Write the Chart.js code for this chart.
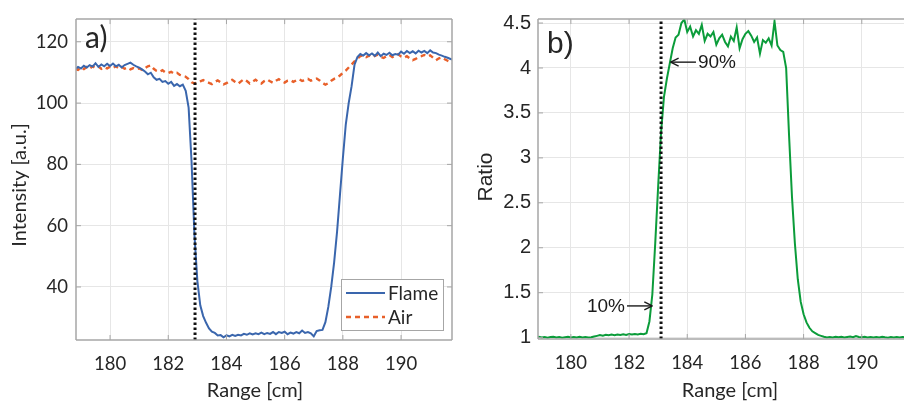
<!DOCTYPE html>
<html>
<head>
<meta charset="utf-8">
<script src="https://cdn.jsdelivr.net/npm/chart.js@4.4.1/dist/chart.umd.min.js"></script>
<style>
  body { margin: 0; background: #fff; }
  #wrap { position: relative; width: 904px; height: 403px; overflow: hidden; background: #fff; }
  canvas { position: absolute; top: 0; }
  #chartA { left: 0; }
  #chartB { left: 460px; }
</style>
</head>
<body>
<div id="wrap">
  <canvas id="chartA" width="460" height="403"></canvas>
  <canvas id="chartB" width="470" height="403"></canvas>
</div>
<script>
// range axis shared by both panels (cm)
const rangeCm = [
  178.8, 178.9, 179.0, 179.1, 179.2, 179.3, 179.4, 179.5, 179.6, 179.7,
  179.8, 179.9, 180.0, 180.1, 180.2, 180.3, 180.4, 180.5, 180.6, 180.7,
  180.8, 180.9, 181.0, 181.1, 181.2, 181.3, 181.4, 181.5, 181.6, 181.7,
  181.8, 181.9, 182.0, 182.1, 182.2, 182.3, 182.4, 182.5, 182.6, 182.7,
  182.8, 182.9, 183.0, 183.1, 183.2, 183.3, 183.4, 183.5, 183.6, 183.7,
  183.8, 183.9, 184.0, 184.1, 184.2, 184.3, 184.4, 184.5, 184.6, 184.7,
  184.8, 184.9, 185.0, 185.1, 185.2, 185.3, 185.4, 185.5, 185.6, 185.7,
  185.8, 185.9, 186.0, 186.1, 186.2, 186.3, 186.4, 186.5, 186.6, 186.7,
  186.8, 186.9, 187.0, 187.1, 187.2, 187.3, 187.4, 187.5, 187.6, 187.7,
  187.8, 187.9, 188.0, 188.1, 188.2, 188.3, 188.4, 188.5, 188.6, 188.7,
  188.8, 188.9, 189.0, 189.1, 189.2, 189.3, 189.4, 189.5, 189.6, 189.7,
  189.8, 189.9, 190.0, 190.1, 190.2, 190.3, 190.4, 190.5, 190.6, 190.7,
  190.8, 190.9, 191.0, 191.1, 191.2, 191.3, 191.4, 191.5, 191.6, 191.7,
  191.8
];

// panel a) intensity [a.u.]
const flame = [
  111.0, 111.8, 111.3, 112.2, 111.6, 112.4, 111.9, 113.0, 111.8, 112.6,
  112.0, 112.8, 112.1, 112.9, 112.0, 112.5, 111.6, 112.4, 112.8, 113.2,
  112.5, 112.0, 111.6, 111.0, 110.3, 109.4, 109.9, 108.4, 107.6, 107.9,
  106.9, 107.2, 106.3, 106.9, 105.6, 106.2, 105.5, 106.0, 104.0, 98.5,
  81.0, 57.0, 42.0, 34.0, 30.5, 28.3, 26.5, 25.4, 25.0, 24.2,
  24.3, 23.6, 24.2, 23.9, 24.4, 24.0, 24.4, 24.2, 24.7, 24.4,
  24.9, 24.5, 24.9, 24.6, 25.1, 24.6, 25.0, 24.7, 25.3, 24.6,
  25.3, 25.0, 25.4, 24.6, 25.1, 24.8, 25.3, 24.9, 25.8, 25.0,
  25.3, 24.9, 23.9, 25.6, 25.9, 26.0, 28.5, 33.5, 40.0, 48.0,
  58.0, 70.0, 82.0, 93.0, 100.0, 105.5, 112.5, 115.0, 116.0, 115.5,
  116.3, 115.6, 116.2, 115.4, 116.5, 115.3, 116.1, 115.7, 116.4, 115.6,
  116.0, 115.8, 116.8, 116.1, 117.0, 116.3, 116.9, 116.2, 117.1, 116.5,
  117.0, 116.3, 117.2, 116.5, 116.3, 115.8, 115.5, 115.1, 114.8, 114.4,
  114.1
];
const air = [
  111.2, 110.8, 111.6, 111.1, 111.8, 111.3, 112.0, 111.4, 111.9, 111.2,
  111.7, 111.3, 111.9, 111.5, 112.0, 111.4, 111.8, 111.2, 111.6, 111.0,
  111.4, 111.0, 111.3, 110.8, 111.4, 112.0, 112.3, 111.2, 110.5, 110.2,
  110.7, 110.0, 109.8, 110.2, 109.6, 109.9, 109.2, 108.9, 108.6, 107.8,
  106.8, 106.4, 106.7, 107.1, 107.5, 107.0, 106.6, 106.2, 106.9, 107.4,
  106.8, 106.1, 106.5, 107.2, 107.6, 106.9, 106.3, 107.1, 107.8, 107.2,
  106.4, 107.0, 107.6, 106.9, 106.4, 107.2, 107.7, 107.1, 106.6, 107.3,
  107.8, 107.1, 106.7, 107.3, 107.5, 106.9, 107.4, 107.8, 107.2, 107.5,
  107.9, 107.3, 107.7, 108.0, 107.4, 106.6, 106.0, 106.5, 107.3, 107.9,
  108.3, 109.0, 109.9, 110.6, 111.6, 112.6, 113.6, 114.5, 115.3, 115.6,
  115.0, 115.5, 114.9, 115.4, 115.8, 115.1, 114.7, 115.3, 115.7, 115.0,
  115.5, 115.9, 115.2, 114.8, 115.3, 114.6, 114.0, 114.4, 115.0, 115.3,
  115.7, 115.2, 115.6, 114.8, 114.0, 114.6, 114.9, 114.3, 113.8, 113.4,
  113.1
];

// panel b) flame / air ratio
const ratio = [
  1.005, 1.010, 1.002, 1.008, 1.000, 1.006, 1.010, 1.003, 1.008, 1.000,
  1.005, 1.009, 1.002, 1.007, 1.003, 1.010, 1.001, 1.006, 1.002, 1.004,
  1.012, 1.020, 1.028, 1.022, 1.032, 1.026, 1.034, 1.028, 1.036, 1.030,
  1.038, 1.031, 1.040, 1.034, 1.041, 1.036, 1.042, 1.038, 1.050, 1.180,
  1.480, 2.050, 2.680, 3.280, 3.680, 3.880, 4.050, 4.220, 4.340, 4.370,
  4.500, 4.540, 4.400, 4.460, 4.350, 4.420, 4.380, 4.480, 4.300, 4.380,
  4.350, 4.400, 4.260, 4.330, 4.370, 4.290, 4.240, 4.350, 4.300, 4.450,
  4.220, 4.320, 4.380, 4.410, 4.360, 4.290, 4.340, 4.160, 4.310, 4.280,
  4.330, 4.250, 4.520, 4.250, 4.200, 4.180, 4.000, 3.250, 2.570, 2.050,
  1.650, 1.400, 1.260, 1.170, 1.110, 1.070, 1.050, 1.030, 1.020, 1.010,
  1.002, 1.008, 1.003, 1.010, 1.004, 1.009, 1.002, 1.007, 1.012, 1.006,
  1.018, 1.008, 1.004, 1.010, 1.003, 1.008, 1.001, 1.006, 1.002, 1.009,
  1.004, 1.000, 1.007, 1.003, 1.008, 1.002, 1.006, 1.004, 1.005, 1.003,
  1.006
];

const xTicks = [180, 182, 184, 186, 188, 190];
const yTicksA = [40, 60, 80, 100, 120];
const yTicksB = [1, 1.5, 2, 2.5, 3, 3.5, 4, 4.5];

const edgeA = 182.92; // flame edge marker, panel a)
const edgeB = 183.1;  // flame edge marker, panel b)

// arrow notes on panel b): [label, tip x, tip y, tail x]
const notesB = [
  ['90%', 183.43, 4.065, 184.30],
  ['10%', 182.80, 1.353, 181.93]
];

const textColor = '#262626';
const gridColor = '#e6e6e6';
const boxColor = '#a6a6a6';

const toXY = (ys) => rangeCm.map((x, i) => ({ x, y: ys[i] }));

function line(ctx, x1, y1, x2, y2) {
  ctx.beginPath();
  ctx.moveTo(x1, y1);
  ctx.lineTo(x2, y2);
  ctx.stroke();
}

// MATLAB-like box, inward ticks, panel letter, axis titles, legend and notes
function panelPlugin(cfg) {
  return {
    id: 'panel',
    afterDraw(chart) {
      const { ctx, chartArea: a, scales: { x, y } } = chart;
      ctx.save();

      ctx.strokeStyle = boxColor;
      ctx.lineWidth = 1.5;
      line(ctx, a.left, a.top, a.left, a.bottom);
      line(ctx, a.left, a.bottom, a.right, a.bottom);
      line(ctx, a.left, a.top, a.right, a.top);
      if (cfg.rightBorder) line(ctx, a.right, a.top, a.right, a.bottom);

      ctx.lineWidth = 1;
      x.ticks.forEach(t => {
        const px = x.getPixelForValue(t.value);
        line(ctx, px, a.bottom, px, a.bottom - 5);
        line(ctx, px, a.top, px, a.top + 5);
      });
      y.ticks.forEach(t => {
        const py = y.getPixelForValue(t.value);
        line(ctx, a.left, py, a.left + 5, py);
        line(ctx, a.right, py, a.right - 5, py);
      });

      ctx.fillStyle = textColor;
      ctx.textBaseline = 'alphabetic';
      ctx.textAlign = 'left';
      ctx.font = cfg.letterFont;
      ctx.fillText(cfg.letter, a.left + 9, a.top + cfg.letterDy);

      ctx.textBaseline = 'middle';
      ctx.textAlign = 'center';
      ctx.font = '20px Lato';
      ctx.fillText('Range [cm]', cfg.xTitleX, 391);

      ctx.save();
      ctx.font = cfg.yTitleFont;
      ctx.translate(cfg.yTitleX, cfg.yTitleY);
      ctx.rotate(-Math.PI / 2);
      ctx.fillText(cfg.yTitle, 0, 0);
      ctx.restore();

      if (cfg.legend) {
        const w = 102, h = 51;
        const bx = a.right - 9 - w, by = a.bottom - 10 - h;
        ctx.fillStyle = '#fff';
        ctx.fillRect(bx, by, w, h);
        ctx.strokeStyle = boxColor;
        ctx.lineWidth = 1;
        ctx.strokeRect(bx + 0.5, by + 0.5, w, h);
        const items = chart.data.datasets.filter(d => d.label);
        items.forEach((d, i) => {
          const ry = by + 14 + i * 24;
          ctx.strokeStyle = d.borderColor;
          ctx.lineWidth = d.borderWidth;
          ctx.setLineDash(d.borderDash || []);
          line(ctx, bx + 5, ry, bx + 44, ry);
          ctx.setLineDash([]);
          ctx.fillStyle = textColor;
          ctx.font = '19px Lato';
          ctx.textAlign = 'left';
          ctx.textBaseline = 'middle';
          ctx.fillText(d.label, bx + 47, ry + 1);
        });
      }

      (cfg.notes || []).forEach(([label, tipX, tipY, tailX]) => {
        const tx = x.getPixelForValue(tipX);
        const ty = y.getPixelForValue(tipY);
        const sx = x.getPixelForValue(tailX);
        const dir = Math.sign(tx - sx);
        ctx.strokeStyle = '#1a1a1a';
        ctx.lineWidth = 1.4;
        line(ctx, sx, ty, tx, ty);
        line(ctx, tx, ty, tx - dir * 8, ty - 4);
        line(ctx, tx, ty, tx - dir * 8, ty + 4);
        ctx.fillStyle = '#1a1a1a';
        ctx.font = '19px "Liberation Sans"';
        ctx.textBaseline = 'middle';
        ctx.textAlign = dir > 0 ? 'right' : 'left';
        ctx.fillText(label, sx - dir * 2, ty + 1);
      });

      ctx.restore();
    }
  };
}

function axisOptions(min, max, tickValues, font, fit, padding) {
  return {
    type: 'linear',
    min, max,
    afterBuildTicks: (scale) => { scale.ticks = tickValues.map(v => ({ value: v })); },
    afterFit: (scale) => { Object.assign(scale, fit); },
    grid: { color: gridColor, lineWidth: 1, drawTicks: false },
    border: { display: false },
    ticks: {
      color: textColor, font, padding, autoSkip: false, maxRotation: 0,
      callback: (v) => String(v)
    }
  };
}

const chartA = new Chart(document.getElementById('chartA'), {
  type: 'line',
  data: {
    datasets: [
      {
        data: [{ x: edgeA, y: 22.7 }, { x: edgeA, y: 127.4 }],
        borderColor: '#111', borderWidth: 3, borderDash: [2.5, 2.5], pointRadius: 0
      },
      {
        label: 'Flame', data: toXY(flame),
        borderColor: '#3a66ad', borderWidth: 2, pointRadius: 0
      },
      {
        label: 'Air', data: toXY(air),
        borderColor: '#e8602a', borderWidth: 2.4, borderDash: [5, 4], pointRadius: 0
      }
    ]
  },
  options: {
    responsive: false,
    animation: false,
    layout: { padding: { top: 13, right: 8, left: 0, bottom: 0 } },
    plugins: { legend: { display: false }, tooltip: { enabled: false } },
    scales: {
      x: axisOptions(178.83, 191.75, xTicks, { family: 'Lato', size: 18.5 }, { height: 63 }, 13),
      y: axisOptions(22.7, 127.4, yTicksA, { family: 'Lato', size: 18.5 }, { width: 76 }, 8)
    }
  },
  plugins: [panelPlugin({
    letter: 'a)', letterFont: '30px Lato', letterDy: 29,
    xTitleX: 255, yTitle: 'Intensity [a.u.]', yTitleFont: '20px Lato',
    yTitleX: 20, yTitleY: 185, legend: true, rightBorder: true
  })]
});

const chartB = new Chart(document.getElementById('chartB'), {
  type: 'line',
  data: {
    datasets: [
      {
        data: [{ x: edgeB, y: 0.985 }, { x: edgeB, y: 4.545 }],
        borderColor: '#111', borderWidth: 3, borderDash: [2.5, 2.5], pointRadius: 0
      },
      {
        data: toXY(ratio),
        borderColor: '#0b9c3a', borderWidth: 2, pointRadius: 0
      }
    ]
  },
  options: {
    responsive: false,
    animation: false,
    layout: { padding: { top: 13, right: 8, left: 0, bottom: 0 } },
    plugins: { legend: { display: false }, tooltip: { enabled: false } },
    scales: {
      x: axisOptions(178.87, 192.07, xTicks, { family: 'Lato', size: 18.5 }, { height: 64 }, 13),
      y: axisOptions(0.985, 4.545, yTicksB, { family: 'Liberation Sans', size: 20 }, { width: 78 }, 7)
    }
  },
  plugins: [panelPlugin({
    letter: 'b)', letterFont: '30px "Liberation Sans"', letterDy: 34,
    xTitleX: 270, yTitle: 'Ratio', yTitleFont: '21px "Liberation Sans"',
    yTitleX: 26, yTitleY: 177, legend: false, rightBorder: false,
    notes: notesB
  })]
});
</script>
</body>
</html>
